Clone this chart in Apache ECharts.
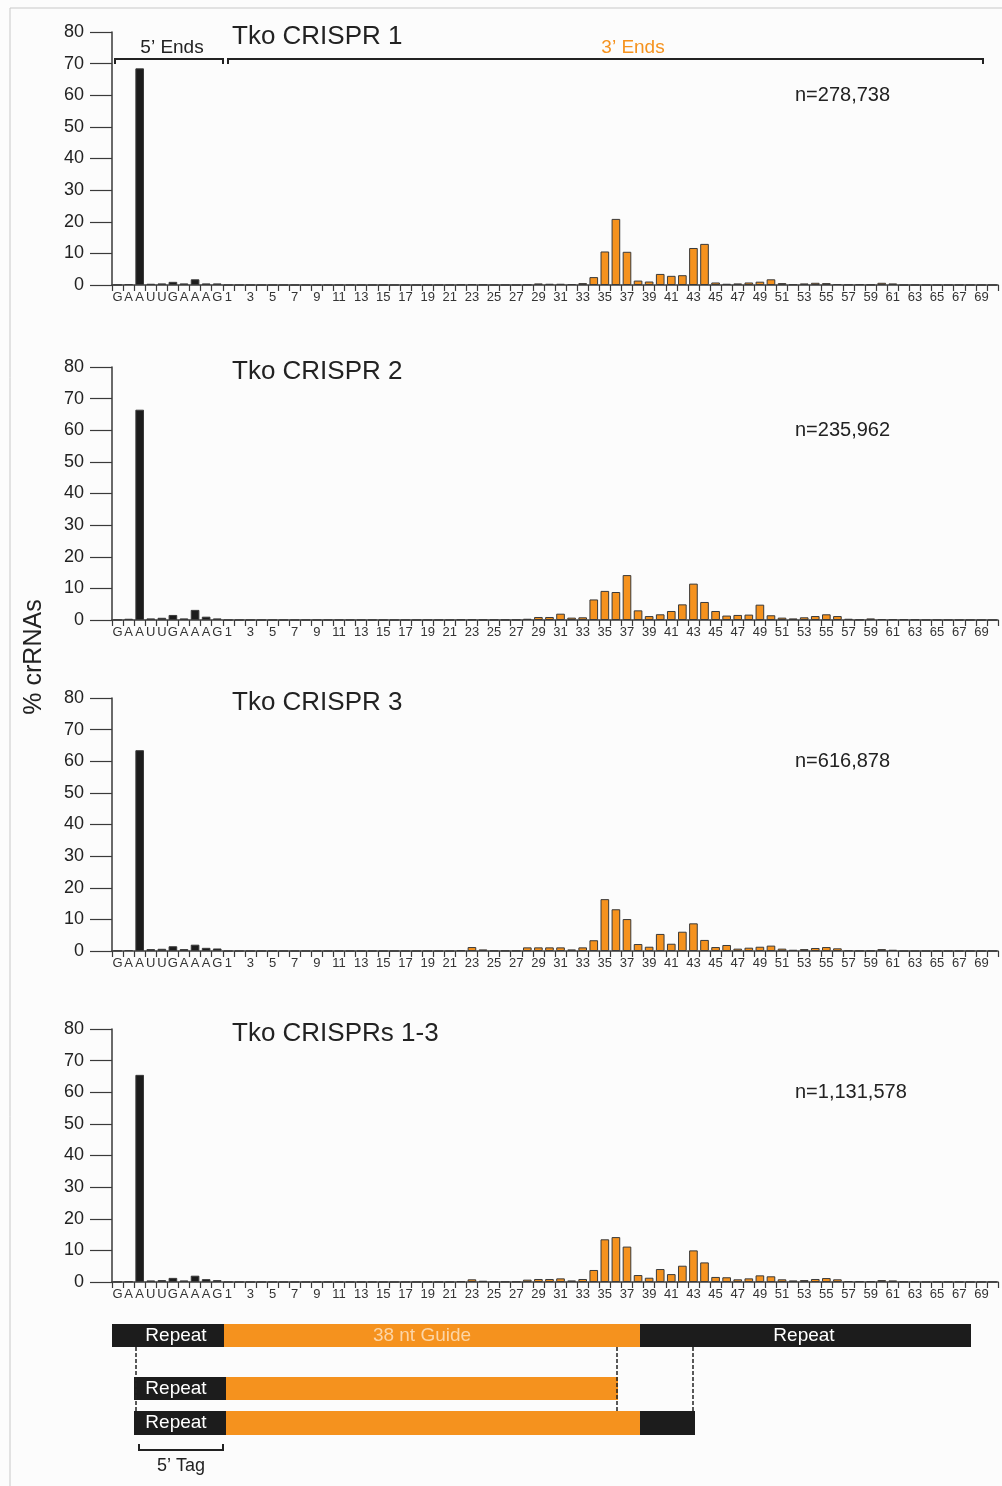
<!DOCTYPE html>
<html>
<head>
<meta charset="utf-8">
<script src="https://cdn.jsdelivr.net/npm/echarts@6/dist/echarts.min.js"></script>
<style>
html,body{margin:0;padding:0;background:#fcfcfc;}
#chart{width:1002px;height:1486px;}
</style>
</head>
<body>
<div id="chart"></div>
<script>
// ---------- DATA ----------
const letters5 = ['G','A','A','U','U','G','A','A','A','G'];
const positions3 = ['1','2','3','4','5','6','7','8','9','10','11','12','13','14','15','16','17','18','19','20',
  '21','22','23','24','25','26','27','28','29','30','31','32','33','34','35','36','37','38','39','40',
  '41','42','43','44','45','46','47','48','49','50','51','52','53','54','55','56','57','58','59','60',
  '61','62','63','64','65','66','67','68','69','70'];
const yTicks = [0,10,20,30,40,50,60,70,80];

const panelTitles = ['Tko CRISPR 1','Tko CRISPR 2','Tko CRISPR 3','Tko CRISPRs 1-3'];
const panelCounts = ['n=278,738','n=235,962','n=616,878','n=1,131,578'];

const fivePrime1 = [0.05,0.3,68.5,0.4,0.5,1.0,0.5,1.8,0.5,0.5];
const threePrime1 = [0,0,0,0,0,0,0,0,0,0,0,0,0,0,0,0,0,0,0,0,
  0,0.1,0.2,0.1,0,0,0,0.1,0.5,0.4,0.4,0.3,0.6,2.5,10.6,20.9,10.5,1.4,1.1,3.5,
  2.9,3.1,11.7,13.0,0.8,0.4,0.5,0.8,1.05,1.8,0.6,0.2,0.5,0.7,0.6,0.3,0.1,0.2,0.1,0.7,
  0.5,0,0,0,0,0,0,0,0,0];

const fivePrime2 = [0.05,0.4,66.5,0.5,0.7,1.6,0.5,3.2,1.05,0.5];
const threePrime2 = [0,0,0,0,0,0,0,0,0,0,0,0,0,0,0,0,0,0,0,0,
  0,0.1,0.1,0.05,0.05,0.05,0.05,0.4,0.95,0.95,2.0,0.75,0.85,6.5,9.2,8.85,14.2,3.05,1.25,1.8,
  2.85,4.95,11.5,5.7,2.85,1.4,1.6,1.7,4.85,1.5,0.75,0.5,0.85,1.25,1.8,1.25,0.4,0.1,0.5,0.3,
  0.2,0.2,0.1,0,0,0,0,0,0,0];

const fivePrime3 = [0.1,0.3,63.5,0.6,0.7,1.5,0.6,2.0,1.0,0.8];
const threePrime3 = [0,0,0,0,0,0,0,0,0,0,0,0,0,0,0,0,0,0,0,0,
  0,0.2,1.25,0.5,0.1,0.1,0.1,1.15,1.15,1.15,1.15,0.5,1.15,3.4,16.4,13.2,10.1,2.2,1.35,5.4,
  2.3,6.1,8.75,3.5,1.25,1.9,0.75,1.05,1.35,1.7,0.75,0.4,0.6,0.95,1.25,0.85,0.2,0.1,0.1,0.6,
  0.4,0,0,0,0,0,0,0,0,0];

const fivePrime4 = [0.05,0.2,65.5,0.5,0.6,1.3,0.5,2.0,0.9,0.6];
const threePrime4 = [0,0,0,0,0,0,0,0,0,0,0,0,0,0,0,0,0,0,0,0,
  0,0.2,0.85,0.4,0.1,0.1,0.1,0.75,0.95,0.95,1.15,0.5,0.95,3.8,13.5,14.2,11.2,2.2,1.35,4.1,
  2.5,5.15,10.0,6.2,1.6,1.5,0.85,1.15,2.1,1.8,0.85,0.5,0.6,0.95,1.25,0.85,0.3,0.2,0.2,0.6,
  0.5,0.1,0.1,0,0,0,0,0,0,0];

const fivePrimeAll = [fivePrime1, fivePrime2, fivePrime3, fivePrime4];
const threePrimeAll = [threePrime1, threePrime2, threePrime3, threePrime4];

// ---------- LAYOUT / STYLE ----------
const FONT = '"Liberation Sans", Arial, Helvetica, sans-serif';
const ORANGE = '#F5921E';
const BLACK = '#1c1c1c';
const AXIS = '#3a3a3a';
const gridTops = [32, 367, 698, 1029];
const gridLeft = 112, gridWidth = 886, gridHeight = 253;

const categories = letters5.concat(positions3);

const grids = [], xAxes = [], yAxes = [], series = [], graphics = [];
gridTops.forEach((top, i) => {
  grids.push({left: gridLeft, top: top, width: gridWidth, height: gridHeight, containLabel: false});
  xAxes.push({
    type: 'category', gridIndex: i, data: categories, boundaryGap: true,
    axisLine: {show: true, lineStyle: {color: AXIS, width: 1.5}},
    axisTick: {show: true, interval: 0, length: 6, lineStyle: {color: AXIS, width: 1.2}},
    axisLabel: {
      interval: 0, margin: 6, fontSize: 13, color: '#333', fontFamily: FONT,
      formatter: (v, idx) => {
        if (idx < letters5.length) return v;
        const n = parseInt(v, 10);
        return (n % 2 === 1) ? v : '';
      }
    },
    splitLine: {show: false}
  });
  yAxes.push({
    type: 'value', gridIndex: i, min: yTicks[0], max: yTicks[yTicks.length - 1], interval: 10,
    axisLine: {show: true, lineStyle: {color: AXIS, width: 1.5}},
    axisTick: {show: true, length: 22, lineStyle: {color: AXIS, width: 1.2}},
    axisLabel: {margin: 28, fontSize: 18, color: '#222', fontFamily: FONT},
    splitLine: {show: false}
  });
  const five = fivePrimeAll[i];
  series.push({
    type: 'bar', xAxisIndex: i, yAxisIndex: i,
    data: five.concat(threePrimeAll[i]),
    barCategoryGap: '22%',
    itemStyle: {
      color: p => p.dataIndex < five.length ? BLACK : ORANGE,
      borderColor: '#3a3a3a', borderWidth: 1
    },
    silent: true
  });
  graphics.push({
    type: 'text', x: 232, y: top + 5,
    style: {text: panelTitles[i], font: '26px ' + FONT, fill: '#222',
      textAlign: 'left', textVerticalAlign: 'middle', align: 'left', verticalAlign: 'middle'}
  });
  graphics.push({
    type: 'text', x: 795, y: top + 63,
    style: {text: panelCounts[i], font: '20px ' + FONT, fill: '#222',
      textAlign: 'left', textVerticalAlign: 'middle', align: 'left', verticalAlign: 'middle'}
  });
});

function txt(text, x, y, size, fill, align) {
  return {type: 'text', x: x, y: y,
    style: {text: text, font: size + 'px ' + FONT, fill: fill,
      textAlign: align || 'center', textVerticalAlign: 'middle', align: align || 'center', verticalAlign: 'middle'}};
}
function poly(points, dash) {
  return {type: 'polyline', shape: {points: points},
    style: {stroke: '#222', lineWidth: dash ? 1.5 : 2, fill: null, lineDash: dash ? [4, 2] : null}};
}
function box(x, y, w, h, fill) {
  return {type: 'rect', shape: {x: x, y: y, width: w, height: h}, style: {fill: fill}};
}

// frame lines
graphics.push({type: 'line', shape: {x1: 10, y1: 8, x2: 10, y2: 1486}, style: {stroke: '#c8c8c8', lineWidth: 1}});
graphics.push({type: 'line', shape: {x1: 10, y1: 8, x2: 1002, y2: 8}, style: {stroke: '#c8c8c8', lineWidth: 1}});

// brackets in panel 1
graphics.push(poly([[115, 64], [115, 59], [223, 59], [223, 64]]));
graphics.push(poly([[228, 64], [228, 59], [983, 59], [983, 64]]));
graphics.push(txt("5\u2019 Ends", 172, 48, 19, '#222'));
graphics.push(txt("3\u2019 Ends", 633, 48, 19, ORANGE));

// y-axis name
graphics.push({type: 'text', x: 34, y: 657, rotation: Math.PI / 2,
  style: {text: '% crRNAs', font: '25px ' + FONT, fill: '#222',
    textAlign: 'center', textVerticalAlign: 'middle', align: 'center', verticalAlign: 'middle'}});

// schematic
graphics.push(box(112, 1324, 112, 23, BLACK));
graphics.push(box(224, 1324, 416, 23, ORANGE));
graphics.push(box(640, 1324, 331, 23, BLACK));
graphics.push(txt('Repeat', 176, 1336, 19, '#fff'));
graphics.push(txt('38 nt Guide', 422, 1336, 19, '#FCD5A6'));
graphics.push(txt('Repeat', 804, 1336, 19, '#fff'));

graphics.push(box(134, 1377, 92, 23, BLACK));
graphics.push(box(226, 1377, 392, 23, ORANGE));
graphics.push(txt('Repeat', 176, 1389, 19, '#fff'));

graphics.push(box(134, 1411, 92, 24, BLACK));
graphics.push(box(226, 1411, 414, 24, ORANGE));
graphics.push(box(640, 1411, 55, 24, BLACK));
graphics.push(txt('Repeat', 176, 1423, 19, '#fff'));

graphics.push(poly([[136, 1347], [136, 1411]], true));
graphics.push(poly([[617, 1347], [617, 1411]], true));
graphics.push(poly([[693, 1347], [693, 1411]], true));

graphics.push(poly([[139, 1444], [139, 1450], [223, 1450], [223, 1444]]));
graphics.push(txt("5\u2019 Tag", 181, 1466, 18, '#222'));

const chart = echarts.init(document.getElementById('chart'), null, {renderer: 'canvas'});
chart.setOption({
  backgroundColor: '#fcfcfc',
  animation: false,
  grid: grids, xAxis: xAxes, yAxis: yAxes, series: series,
  graphic: {elements: graphics}
});
</script>
</body>
</html>
